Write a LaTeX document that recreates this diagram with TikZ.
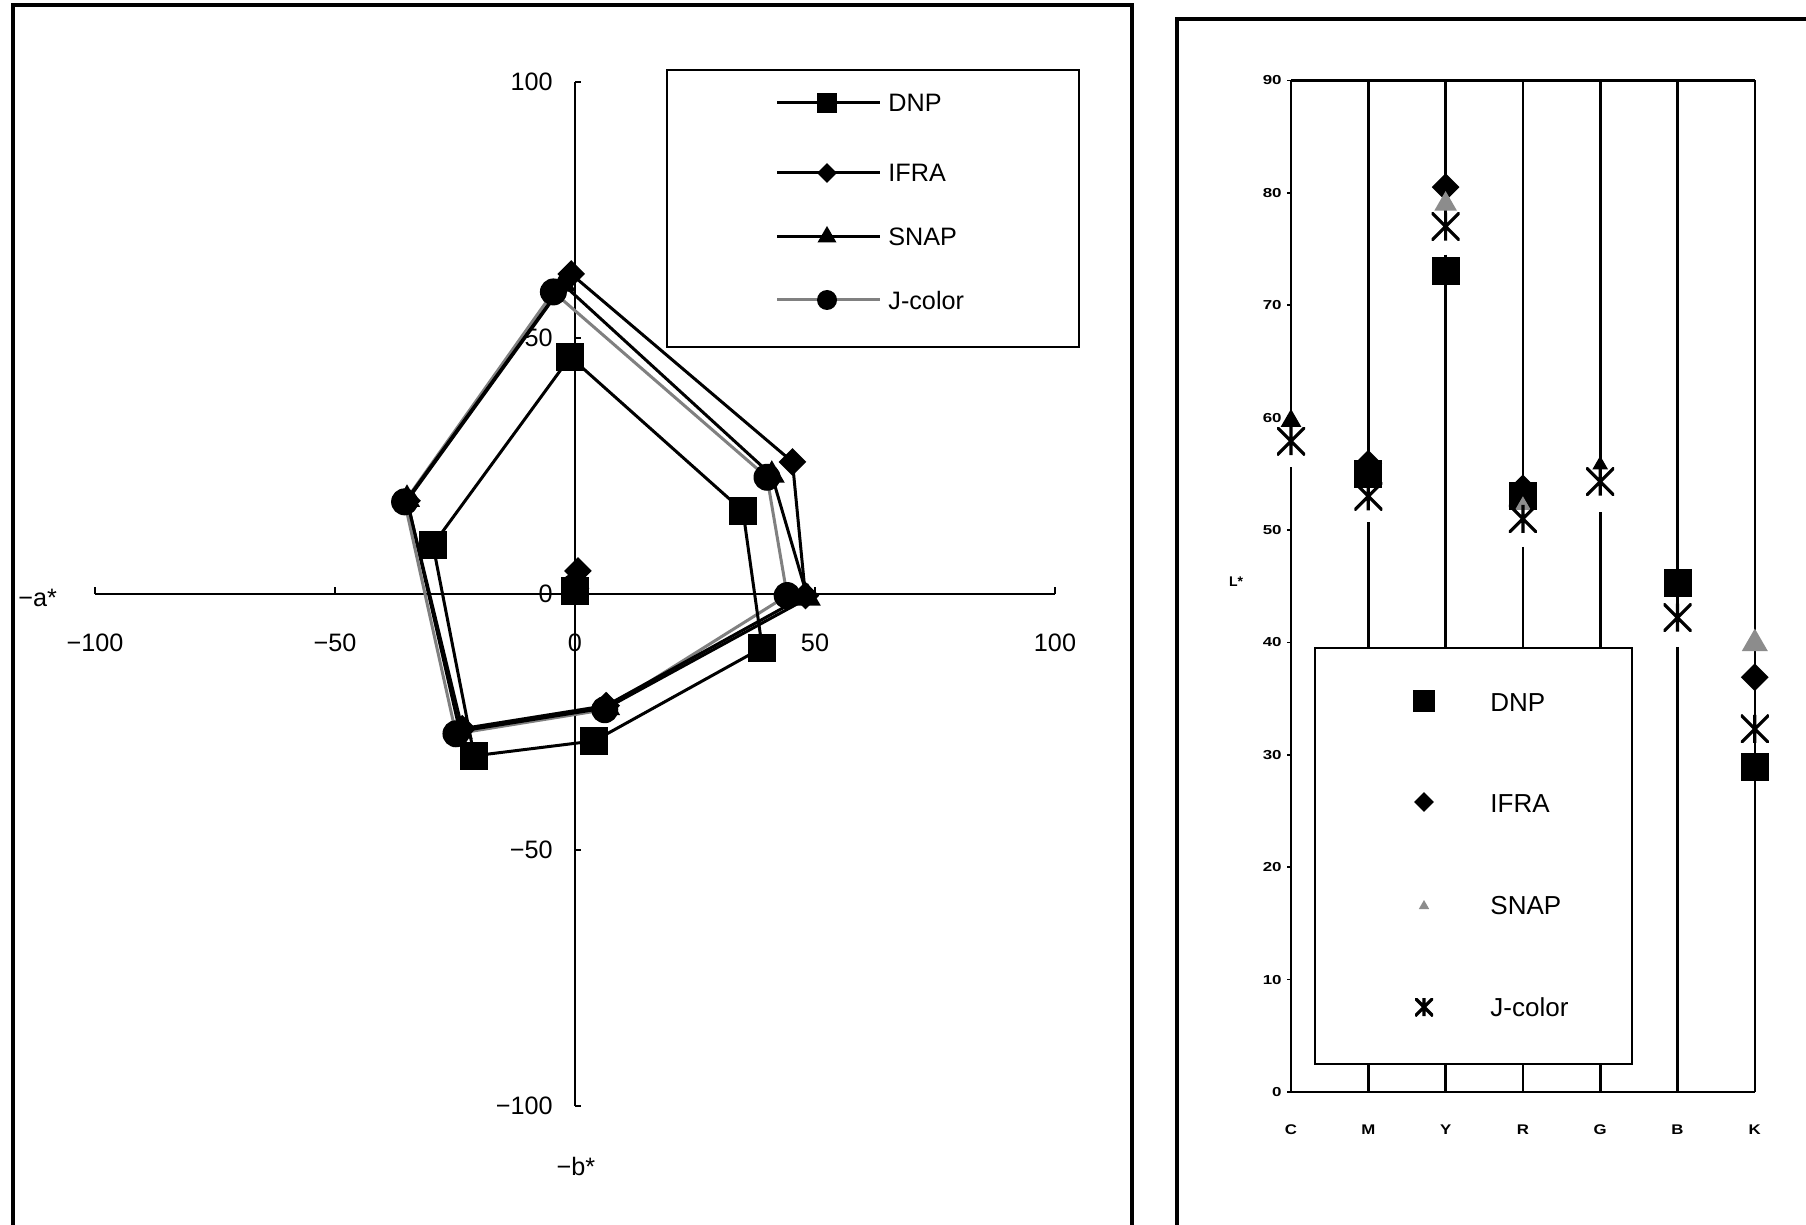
\documentclass[tikz,border=0pt]{standalone}
\usepackage{fontspec}
\setmainfont{Liberation Sans}
\usetikzlibrary{shapes.geometric}
\begin{document}
\begin{tikzpicture}[x=0.5pt,y=-0.5pt,
  frm/.style={line width=2pt},
  ax/.style={line width=1.1pt},
  ser/.style={line width=1.5pt,line join=round},
  jser/.style={line width=1.5pt,black!50,line join=round},
  pl/.style={line width=1.3pt},
  mkSq/.style={rectangle,fill=black,minimum size=#1,inner sep=0pt},
  mkSq/.default=14pt,
  mkDi/.style={diamond,fill=black,minimum size=#1,inner sep=0pt},
  mkDi/.default=14pt,
  mkTr/.style={regular polygon,regular polygon sides=3,fill=black,minimum size=#1,inner sep=0pt},
  mkTr/.default=15pt,
  mkGt/.style={regular polygon,regular polygon sides=3,fill=black!45,minimum size=#1,inner sep=0pt},
  mkGt/.default=15pt,
  mkCi/.style={circle,fill=black,minimum size=#1,inner sep=0pt},
  mkCi/.default=13.5pt,
  mkX/.style={rectangle,minimum size=#1,inner sep=0pt,
    path picture={\draw[line width=1.6pt]
      (path picture bounding box.south west) -- (path picture bounding box.north east)
      (path picture bounding box.north west) -- (path picture bounding box.south east)
      (path picture bounding box.north) -- (path picture bounding box.south);}},
  mkX/.default=14pt,
  lbl/.style={font=\fontsize{12.6}{14}\selectfont,inner sep=0pt},
  rlbl/.style={font=\fontsize{13}{15}\selectfont,inner sep=0pt},
  tkl/.style={font=\fontsize{6.5}{7}\selectfont\bfseries,inner sep=0pt},
  lbox/.style={line width=1pt}
]
\useasboundingbox (0,0) rectangle (1806,1225);
\fill[white] (0,0) rectangle (1806,1225);

% panel frames
\draw[frm] (13,1225) -- (13,5) -- (1132,5) -- (1132,1225);
\draw[frm] (1177,1225) -- (1177,19) -- (1806,19);

% ---------------- left chart ----------------
\begin{scope}[shift={(287.5pt,-297pt)},x=2.4pt,y=2.56pt]
  \draw[ax] (-100,0) -- (100,0);
  \draw[ax] (0,100) -- (0,-100);
  \foreach \v in {-100,-50,0,50,100} {
    \draw[ax] (\v,0) -- ++(0pt,3.5pt);
    \draw[ax] (0,\v) -- ++(3pt,0pt);
  }
  \foreach \v/\t [count=\k] in {100/100,50/50,0/0,-50/−50,-100/−100}
    \node[lbl,anchor=east] (yl\k) at ([xshift=-11pt]0,\v) {\t};
  \foreach \v/\t [count=\k] in {-100/−100,-50/−50,0/0,50/50,100/100}
    \node[lbl] (xl\k) at ([yshift=-24.5pt]\v,0) {\t};

  % data points
  \path (-1,46.3) coordinate (d1) (35,16.2) coordinate (d2) (39,-10.5) coordinate (d3)
        (4,-28.7) coordinate (d4) (-21,-31.6) coordinate (d5) (-29.6,9.6) coordinate (d6)
        (0,0.5) coordinate (d7);
  \path (-0.8,62.5) coordinate (i1) (45.3,25.8) coordinate (i2) (48,-0.3) coordinate (i3)
        (6.5,-21.8) coordinate (i4) (-23.5,-26.3) coordinate (i5) (-35,18.2) coordinate (i6)
        (0.6,4.5) coordinate (i7);
  \path (-2.5,60.5) coordinate (s1) (41,23.2) coordinate (s2) (48.5,-0.8) coordinate (s3)
        (6.7,-22.2) coordinate (s4) (-24,-26.8) coordinate (s5) (-35,18.5) coordinate (s6)
        (0.3,2.5) coordinate (s7);
  \path (-4.5,59) coordinate (j1) (40,22.8) coordinate (j2) (44.2,-0.3) coordinate (j3)
        (6.2,-22.6) coordinate (j4) (-24.8,-27.3) coordinate (j5) (-35.5,18) coordinate (j6)
        (0,1.5) coordinate (j7);

  \draw[jser] (j1) -- (j2) -- (j3) -- (j4) -- (j5) -- (j6) -- cycle;
  \draw[ser] (s1) -- (s2) -- (s3) -- (s4) -- (s5) -- (s6) -- cycle;
  \draw[ser] (i1) -- (i2) -- (i3) -- (i4) -- (i5) -- (i6) -- cycle;
  \draw[ser] (d1) -- (d2) -- (d3) -- (d4) -- (d5) -- (d6) -- cycle;

  \foreach \i in {1,...,7} \node[mkCi] (jm\i) at (j\i) {};
  \foreach \i in {1,...,7} \node[mkTr] (sm\i) at (s\i) {};
  \foreach \i in {1,...,7} \node[mkDi] (im\i) at (i\i) {};
  \foreach \i in {1,...,7} \node[mkSq] (dm\i) at (d\i) {};
\end{scope}

\node[lbl,anchor=west] (alab) at (18,598) {−a*};
\node[lbl] (blab) at (576,1166) {−b*};

% left legend
\draw[lbox] (667,70) rectangle (1079,347);
\coordinate (la1) at (777,103); \coordinate (lb1) at (880,103);
\draw[ser] (la1) -- (lb1);
\node[mkSq=10pt] (lm1) at (827,103) {};
\node[lbl,anchor=west] (lt1) at (888,103) {DNP};
\coordinate (la2) at (777,173); \coordinate (lb2) at (880,173);
\draw[ser] (la2) -- (lb2);
\node[mkDi=10pt] (lm2) at (827,173) {};
\node[lbl,anchor=west] (lt2) at (888,173) {IFRA};
\coordinate (la3) at (777,237); \coordinate (lb3) at (880,237);
\draw[ser] (la3) -- (lb3);
\node[mkTr=11pt] (lm3) at (827,237) {};
\node[lbl,anchor=west] (lt3) at (888,237) {SNAP};
\coordinate (la4) at (777,300); \coordinate (lb4) at (880,300);
\draw[jser] (la4) -- (lb4);
\node[mkCi=10pt] (lm4) at (827,300) {};
\node[lbl,anchor=west] (lt4) at (888,300) {J-color};

% ---------------- right chart ----------------
\begin{scope}[shift={(645.5pt,-546pt)},x=38.65pt,y=5.62pt]
  \draw[pl] (0,90) -- (6,90);
  \draw[pl] (0,0) -- (6,0);
  \foreach \i/\a/\b in {0/57/55.6,1/52/50.7,2/76/74.5,3/50/48.5,4/53.2/51.6,5/41/39.6} {
    \draw[pl] (\i,90) -- (\i,\a);
    \draw[pl] (\i,\b) -- (\i,0);
  }
  \draw[pl] (6,90) -- (6,0);
  \foreach \v [count=\k] in {0,10,...,90} {
    \draw[line width=0.8pt] (0,\v) -- ++(-2pt,0pt);
    \node[tkl,anchor=east] (ry\k) at ([xshift=-4.5pt]0,\v) {\scalebox{1.3}[1]{\v}};
  }
  \foreach \c [count=\k from 0] in {C,M,Y,R,G,B,K}
    \node[tkl,font=\fontsize{7}{8}\selectfont\bfseries] (rc\k) at ([yshift=-19pt]\k,0) {\scalebox{1.2}[1]{\c}};

  % IFRA diamonds
  \node[mkDi=14pt] (ri1) at (1,55.9) {};
  \node[mkDi=14pt] (ri2) at (2,80.5) {};
  \node[mkDi=14pt] (ri3) at (3,53.7) {};
  \node[mkDi=14pt] (ri6) at (6,36.9) {};
  % DNP squares
  \node[mkSq] (rd1) at (1,55.0) {};
  \node[mkSq] (rd2) at (2,73.0) {};
  \node[mkSq] (rd3) at (3,53.0) {};
  \node[mkSq] (rd5) at (5,45.3) {};
  \node[mkSq] (rd6) at (6,28.9) {};
  % SNAP triangles
  \node[mkTr=12pt] (rs0) at (0,59.7) {};
  \node[mkGt=13pt] (rs2) at (2,79.0) {};
  \node[mkGt=9pt] (rs3) at (3,52.2) {};
  \node[mkTr=9pt] (rs4) at (4,55.8) {};
  \node[mkGt=15pt] (rs6) at (6,39.9) {};
  % J-color asterisks
  \node[mkX] (rj0) at (0,57.9) {};
  \node[mkX] (rj1) at (1,53.0) {};
  \node[mkX] (rj2) at (2,77.0) {};
  \node[mkX] (rj3) at (3,51.0) {};
  \node[mkX] (rj4) at (4,54.3) {};
  \node[mkX] (rj5) at (5,42.2) {};
  \node[mkX] (rj6) at (6,32.3) {};
\end{scope}

\node[tkl,font=\fontsize{7}{8}\selectfont\bfseries] (Llab) at (1236,582) {L*};

% right legend
\draw[lbox,fill=white] (1315,648) rectangle (1632,1064);
\node[mkSq=11pt] (rl1) at (1424,701) {};
\node[rlbl,anchor=west] (rt1) at (1490,703) {DNP};
\node[mkDi=10pt] (rl2) at (1424,802) {};
\node[rlbl,anchor=west] (rt2) at (1490,804) {IFRA};
\node[mkGt=6pt] (rl3) at (1424,906) {};
\node[rlbl,anchor=west] (rt3) at (1490,906) {SNAP};
\node[mkX=9pt] (rl4) at (1424,1007) {};
\node[rlbl,anchor=west] (rt4) at (1490,1007) {J-color};
\end{tikzpicture}
\end{document}
